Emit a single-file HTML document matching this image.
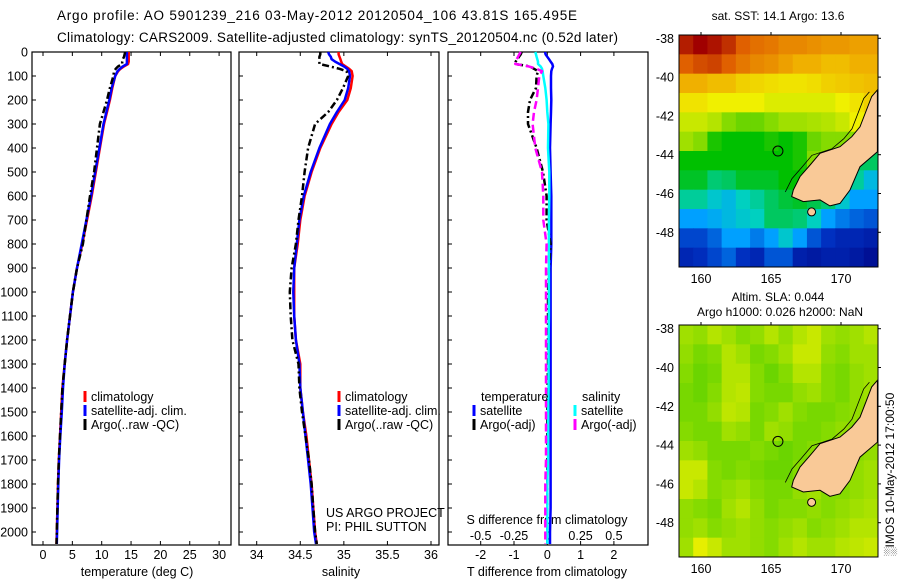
<!DOCTYPE html>
<html><head><meta charset="utf-8"><style>
html,body{margin:0;padding:0;background:#fff}
svg text{font-family:"Liberation Sans",sans-serif;fill:#000}
</style></head><body>
<svg id="c" width="900" height="580" viewBox="0 0 900 580" xmlns="http://www.w3.org/2000/svg">
<text x="57" y="20" font-size="13.5" textLength="520">Argo profile: AO 5901239_216 03-May-2012 20120504_106 43.81S 165.495E</text>
<text x="57" y="42" font-size="13.5" textLength="561">Climatology: CARS2009. Satellite-adjusted climatology: synTS_20120504.nc (0.52d later)</text>
<g id="g"></g>
</svg>
<script>
// ---------- data ----------
const depths   = [0,10,20,30,40,50,60,70,80,100,150,200,250,300,400,500,600,700,800,900,1000,1100,1200,1300,1400,1500,1600,1700,1800,1900,2000,2050];
const tempClim = [14.6,14.6,14.6,14.6,14.6,14.5,13.8,13.2,12.8,12.3,11.8,11.4,10.9,10.4,9.7,9.0,8.3,7.5,6.7,5.8,5.1,4.6,4.1,3.7,3.3,3.1,2.9,2.7,2.55,2.45,2.35,2.3];
const tempSat  = [14.3,14.3,14.3,14.3,14.3,14.3,13.6,13.1,12.7,12.3,11.7,11.3,10.8,10.3,9.6,8.9,8.2,7.4,6.6,5.8,5.1,4.6,4.1,3.7,3.4,3.2,2.95,2.75,2.6,2.5,2.4,2.35];
const tempArgo = [14.0,13.9,13.8,13.6,13.5,13.5,12.8,12.4,12.1,12.0,11.4,10.9,10.3,9.7,9.2,8.7,8.0,7.4,6.8,5.8,5.1,4.6,4.1,3.7,3.3,3.1,2.9,2.7,2.55,2.45,2.35,2.3];
const salClim  = [34.94,34.94,34.95,34.96,34.97,34.98,35.02,35.06,35.09,35.10,35.08,35.04,34.94,34.86,34.73,34.63,34.55,34.50,34.47,34.43,34.43,34.43,34.45,34.50,34.50,34.53,34.57,34.60,34.63,34.65,34.67,34.69];
const salSat   = [34.82,34.83,34.85,34.86,34.90,34.95,35.00,35.04,35.06,35.07,35.05,35.01,34.92,34.84,34.72,34.62,34.54,34.49,34.46,34.43,34.42,34.43,34.45,34.49,34.50,34.53,34.56,34.59,34.62,34.64,34.66,34.68];
const salArgo  = [34.73,34.73,34.72,34.72,34.72,34.72,34.84,34.95,35.03,35.05,34.99,34.92,34.82,34.67,34.59,34.55,34.52,34.48,34.45,34.40,34.38,34.39,34.41,34.48,34.49,34.52,34.56,34.60,34.63,34.65,34.67,34.69];
const dTsat    = [-0.07,-0.05,0.0,0.05,0.1,0.15,0.17,0.14,0.12,0.11,0.11,0.12,0.11,0.1,0.08,0.1,0.12,0.12,0.12,0.1,0.1,0.1,0.1,0.1,0.1,0.1,0.1,0.1,0.1,0.1,0.08,0.08];
const dTargo   = [-0.77,-0.8,-0.85,-0.9,-0.95,-0.97,-0.52,-0.4,-0.28,-0.32,-0.34,-0.52,-0.58,-0.58,-0.32,-0.13,-0.02,-0.02,0.1,0.05,0.02,0.02,0.02,0.02,0.01,0.0,0.0,0.0,0.0,0.0,0.0,0.0];
const dSsat    = [-0.09,-0.085,-0.08,-0.075,-0.07,-0.07,-0.05,-0.04,-0.035,-0.03,-0.015,-0.005,0.0,0.008,0.005,0.015,0.015,0.012,0.012,0.012,0.012,0.012,0.01,0.01,0.01,0.005,0.005,0.005,0.0,0.0,0.0,0.0];
const dSargo   = [-0.2,-0.21,-0.22,-0.23,-0.24,-0.24,-0.14,-0.08,-0.04,-0.06,-0.07,-0.08,-0.1,-0.11,-0.09,-0.04,-0.03,-0.03,-0.005,-0.01,-0.01,-0.01,-0.01,-0.01,-0.01,-0.01,-0.01,-0.01,-0.015,-0.015,-0.015,-0.015];
const depthTicks = [0,100,200,300,400,500,600,700,800,900,1000,1100,1200,1300,1400,1500,1600,1700,1800,1900,2000];
const tempTicks = [0,5,10,15,20,25,30];
const salTicks = [34,34.5,35,35.5,36];
const salTickLabels = ["34","34.5","35","35.5","36"];
const dTTicks = [-2,-1,0,1,2];
const dSTicks = [-0.5,-0.25,0,0.25,0.5];
const dSTickLabels = ["-0.5","-0.25","0","0.25","0.5"];
const latTicks = [-38,-40,-42,-44,-46,-48];
const lonTicks = [160,165,170];
// SST map (14 lon cols x 12 lat rows, colour index 0..1)
const sstGrid = [
[0.97,1.0,0.98,0.95,0.9,0.88,0.87,0.85,0.85,0.84,0.83,0.83,0.82,0.82],
[0.9,0.92,0.93,0.9,0.87,0.85,0.84,0.82,0.8,0.8,0.78,0.78,0.8,0.8],
[0.8,0.8,0.78,0.78,0.75,0.74,0.73,0.72,0.72,0.73,0.75,0.76,0.77,0.78],
[0.72,0.72,0.7,0.7,0.7,0.7,0.68,0.68,0.68,0.68,0.68,0.7,0.72,0.75],
[0.66,0.66,0.64,0.6,0.58,0.58,0.6,0.62,0.62,0.63,0.64,0.66,0.7,0.7],
[0.62,0.6,0.52,0.5,0.5,0.5,0.52,0.5,0.52,0.58,0.6,0.6,0.6,0.6],
[0.5,0.5,0.5,0.5,0.5,0.5,0.5,0.5,0.52,0.6,0.6,0.6,0.45,0.45],
[0.48,0.48,0.44,0.45,0.48,0.48,0.48,0.5,0.5,0.5,0.5,0.45,0.42,0.35],
[0.42,0.42,0.38,0.35,0.4,0.42,0.45,0.47,0.48,0.46,0.44,0.38,0.3,0.3],
[0.3,0.3,0.32,0.35,0.38,0.4,0.45,0.45,0.44,0.4,0.3,0.25,0.22,0.2],
[0.18,0.18,0.22,0.3,0.3,0.25,0.3,0.38,0.3,0.2,0.15,0.12,0.12,0.1],
[0.12,0.14,0.18,0.22,0.15,0.12,0.2,0.2,0.1,0.08,0.1,0.1,0.08,0.05]];
const slaGrid = [
[0.62,0.61,0.64,0.62,0.6,0.61,0.64,0.61,0.64,0.66,0.62,0.61,0.62,0.64],
[0.61,0.59,0.6,0.64,0.62,0.59,0.6,0.62,0.66,0.66,0.61,0.6,0.62,0.62],
[0.6,0.58,0.59,0.64,0.64,0.6,0.58,0.6,0.64,0.64,0.6,0.59,0.61,0.62],
[0.59,0.58,0.6,0.64,0.65,0.6,0.59,0.59,0.61,0.62,0.6,0.59,0.61,0.62],
[0.59,0.59,0.61,0.65,0.64,0.59,0.6,0.62,0.6,0.59,0.59,0.6,0.61,0.61],
[0.6,0.59,0.59,0.62,0.61,0.59,0.62,0.61,0.59,0.59,0.6,0.61,0.6,0.61],
[0.62,0.61,0.59,0.59,0.59,0.6,0.59,0.58,0.59,0.6,0.61,0.6,0.6,0.61],
[0.66,0.66,0.6,0.59,0.6,0.59,0.58,0.58,0.6,0.61,0.6,0.59,0.61,0.62],
[0.66,0.64,0.6,0.61,0.62,0.6,0.59,0.59,0.61,0.62,0.6,0.6,0.61,0.62],
[0.61,0.6,0.59,0.62,0.64,0.61,0.59,0.6,0.6,0.61,0.6,0.61,0.62,0.63],
[0.61,0.62,0.6,0.61,0.62,0.61,0.6,0.61,0.62,0.6,0.61,0.62,0.64,0.64],
[0.62,0.69,0.66,0.62,0.62,0.61,0.6,0.62,0.64,0.62,0.62,0.64,0.65,0.66]];
const landLonLat = [[172.6,-40.66],[172.19,-41.0],[171.36,-42.56],[170.77,-43.07],[169.93,-43.59],[168.5,-43.93],[167.79,-44.53],[167.07,-45.13],[166.59,-45.82],[166.48,-46.16],[167.31,-46.42],[168.5,-46.33],[169.21,-46.64],[169.93,-46.51],[170.64,-45.82],[171.36,-44.62],[172.6,-43.85]];
const floatLon = 165.495, floatLat = -43.81;

// ---------- helpers ----------
const NS='http://www.w3.org/2000/svg';
const G=document.getElementById('g');
function el(tag,attrs,parent,txt){const e=document.createElementNS(NS,tag);for(const k in attrs)e.setAttribute(k,attrs[k]);if(txt!==undefined)e.textContent=txt;(parent||G).appendChild(e);return e;}
const yD = d => 52 + d*0.24;
const panels = [{x0:32,x1:231},{x0:239,x1:439},{x0:448,x1:648}];
const xT = v => 43 + v*5.87;
const xS = v => 256.7 + (v-34)*87.15;
const xDT = v => 547.3 + v*33.3;
const xDS = v => 547.3 + v*133.2;
function line(xs,vals,fx,color,w,dash,name){
  const pts=vals.map((v,i)=>fx(v).toFixed(1)+','+yD(depths[i]).toFixed(1)).join(' ');
  const p=el('polyline',{points:pts,fill:'none',stroke:color,'stroke-width':w,'stroke-linejoin':'round'});
  if(dash)p.setAttribute('stroke-dasharray',dash);
  
  
}
panels.forEach((p,i)=>{
  const r=el('rect',{x:p.x0,y:52,width:p.x1-p.x0,height:493,fill:'none',stroke:'#000','stroke-width':1.2});
  
  
  depthTicks.forEach(d=>{el('line',{x1:p.x0,x2:p.x0+4,y1:yD(d),y2:yD(d),stroke:'#000'});});
});
depthTicks.forEach(d=>{const t=el('text',{x:28,y:yD(d)+4.5,'font-size':12.5,'text-anchor':'end'},G,String(d));
  
  });
function xticks(ticks,labels,fx,ylab,top){
  ticks.forEach((v,i)=>{const x=fx(v);
    el('line',{x1:x,x2:x,y1:545,y2:541,stroke:'#000'});
    if(top)el('line',{x1:x,x2:x,y1:52,y2:56,stroke:'#000'});
    const t=el('text',{x:x,y:ylab,'font-size':12.5,'text-anchor':'middle'},G,labels[i]);
    
    });
}
xticks(tempTicks,tempTicks.map(String),xT,559,true);
xticks(salTicks,salTickLabels,xS,559,true);
xticks(dTTicks,dTTicks.map(String),xDT,559,true);
dSTicks.forEach((v,i)=>{const t=el('text',{x:xDS(v),y:540,'font-size':12.5,'text-anchor':'middle'},G,dSTickLabels[i]);
  
  });
function lbl(x,y,s,name,anchor,size){const t=el('text',{x:x,y:y,'font-size':size||12.5,'text-anchor':anchor||'start'},G,s);
  
  return t;}
lbl(137,576,'temperature (deg C)','x-axis-title-temperature','middle');
lbl(341,576,'salinity','x-axis-title-salinity','middle');
lbl(547,576,'T difference from climatology','x-axis-title-t-diff','middle');
lbl(547,524,'S difference from climatology','x-axis-title-s-diff','middle');

line(depths,tempClim,xT,'#ff0000',2.5,null,'temp-climatology-line');
line(depths,tempSat,xT,'#0000ff',2.5,null,'temp-satellite-line');
line(depths,tempArgo,xT,'#000',2.5,'7,3,2,3','temp-argo-line');
line(depths,salClim,xS,'#ff0000',2.5,null,'sal-climatology-line');
line(depths,salSat,xS,'#0000ff',2.5,null,'sal-satellite-line');
line(depths,salArgo,xS,'#000',2.5,'7,3,2,3','sal-argo-line');
line(depths,dTsat,xDT,'#0000ff',2.5,null,'t-diff-satellite-line');
line(depths,dTargo,xDT,'#000',2.5,'7,3,2,3','t-diff-argo-line');
line(depths,dSsat,xDS,'#00ffff',2.5,null,'s-diff-satellite-line');
line(depths,dSargo,xDS,'#ff00ff',2.5,'8,4','s-diff-argo-line');

function leg(x,y,color,s,name){const m=el('rect',{x:x-1.5,y:y-10,width:3,height:11,fill:color});
  
  
  lbl(x+6,y,s,name);}
leg(85,401,'#ff0000','climatology','legend-entry-climatology');
leg(85,415,'#0000ff','satellite-adj. clim.','legend-entry-satellite');
leg(85,429,'#000','Argo(..raw -QC)','legend-entry-argo');
leg(339,401,'#ff0000','climatology','legend-entry-climatology-2');
leg(339,415,'#0000ff','satellite-adj. clim.','legend-entry-satellite-2');
leg(339,429,'#000','Argo(..raw -QC)','legend-entry-argo-2');
lbl(326,517,'US ARGO PROJECT','project-label');
lbl(326,531,'PI: PHIL SUTTON','pi-label');
lbl(481,401,'temperature','legend-heading-temperature');
leg(474,415,'#0000ff','satellite','legend-entry-t-satellite');
leg(474,429,'#000','Argo(-adj)','legend-entry-t-argo');
lbl(582,401,'salinity','legend-heading-salinity');
leg(575,415,'#00ffff','satellite','legend-entry-s-satellite');
leg(575,429,'#ff00ff','Argo(-adj)','legend-entry-s-argo');

// ---------- maps ----------
const stops=[[0,[0,0,128]],[0.15,[0,48,192]],[0.3,[0,160,255]],[0.4,[0,208,192]],[0.5,[0,192,0]],[0.62,[160,224,0]],[0.7,[240,240,0]],[0.8,[240,176,0]],[0.9,[224,96,0]],[1,[160,0,0]]];
function cmap(v){for(let i=1;i<stops.length;i++){if(v<=stops[i][0]){const a=stops[i-1],b=stops[i],t=(v-a[0])/(b[0]-a[0]);
  return 'rgb('+a[1].map((c,k)=>Math.round(c+(b[1][k]-c)*t)).join(',')+')';}}return 'rgb(160,0,0)';}
function drawMap(grid,top,bottom,name,ytick0){
  const left=679,right=878;
  const lonX=lon=>701+(lon-160)*14, latY=lat=>ytick0+(-38-lat)*19.4;
  const grp=el('g',{});
  
  
  const cw=(right-left)/14, ch=(bottom-top)/12;
  grid.forEach((row,r)=>row.forEach((v,c)=>{el('rect',{x:(left+c*cw).toFixed(2),y:(top+r*ch).toFixed(2),width:(cw+0.5).toFixed(2),height:(ch+0.5).toFixed(2),fill:cmap(v)},grp);}));
  const pts=landLonLat.map(p=>lonX(p[0]).toFixed(1)+','+latY(p[1]).toFixed(1)).join(' ');
  const land=el('polygon',{points:pts,fill:'#f9c997',stroke:'#000','stroke-width':1},grp);
  
  
  el('polyline',{points:landLonLat.slice(0,9).map(p=>(lonX(p[0])-8).toFixed(1)+','+(latY(p[1])+2).toFixed(1)).join(' '),fill:'none',stroke:'#000','stroke-width':0.8},grp);
  el('ellipse',{cx:lonX(167.9),cy:latY(-46.95),rx:4,ry:4,fill:'#f9c997',stroke:'#000'},grp);
  const fm=el('circle',{cx:lonX(floatLon),cy:latY(floatLat),r:5,fill:'none',stroke:'#000','stroke-width':1},grp);
  
  
  el('rect',{x:left,y:top,width:right-left,height:bottom-top,fill:'none',stroke:'#000'},grp);
  latTicks.forEach(l=>{const y=latY(l);el('line',{x1:right,x2:right+3,y1:y,y2:y,stroke:'#000'});
    lbl(674,y+4.5,String(l),'lat-tick-label','end');});
  lonTicks.forEach(l=>{const x=lonX(l);el('line',{x1:x,x2:x,y1:top,y2:top-3,stroke:'#000'});
    lbl(x,bottom+16,String(l),'lon-tick-label','middle');});
}
drawMap(sstGrid,35,267,'sst-map',38.3);
drawMap(slaGrid,325,557,'sla-map',328.7);
lbl(778,20,'sat. SST: 14.1  Argo: 13.6','sst-map-title','middle',12);
lbl(778,301,'Altim. SLA: 0.044','sla-map-title','middle',12);
lbl(780,316,'Argo h1000: 0.026 h2000: NaN','sla-map-subtitle','middle',12);
const st=lbl(0,0,'\u2591IMOS 10-May-2012 17:00:50','timestamp-label','start',12);
st.setAttribute('transform','translate(894,556) rotate(-90)');
</script>
</body></html>
